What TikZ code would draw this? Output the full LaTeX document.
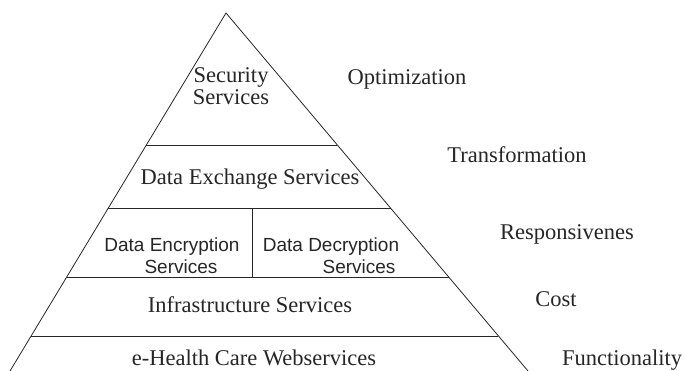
\documentclass[tikz,border=0pt]{standalone}
\usepackage{fontspec}
\setmainfont{Liberation Serif}
\newfontfamily\arialfont{Liberation Sans}
\usetikzlibrary{calc}
\tikzset{
  edge/.style={draw=black!85, line width=0.8pt},
  serif/.style={inner sep=0pt, anchor=base, font=\fontsize{22.5}{24}\selectfont, text=black!85},
  sans/.style={inner sep=0pt, anchor=base, font=\arialfont\fontsize{19}{21}\selectfont, text=black!85},
}
\begin{document}
\begin{tikzpicture}[x=1pt,y=-1pt]
\useasboundingbox (0,0) rectangle (685,371);
\coordinate (apex) at (226,13);
\coordinate (bl) at (10,371);
\coordinate (br) at (528,371);
% pyramid sides
\draw[edge] (bl) -- (apex) -- (br);
% layer dividers
\coordinate (l1) at ($(apex)!0.3687!(bl)$);
\coordinate (r1) at ($(apex)!0.3687!(br)$);
\coordinate (l2) at ($(apex)!0.5447!(bl)$);
\coordinate (r2) at ($(apex)!0.5447!(br)$);
\coordinate (l3) at ($(apex)!0.7374!(bl)$);
\coordinate (r3) at ($(apex)!0.7374!(br)$);
\coordinate (l4) at ($(apex)!0.9022!(bl)$);
\coordinate (r4) at ($(apex)!0.9022!(br)$);
\coordinate (m2) at (252,208);
\coordinate (m3) at (252,277);
\draw[edge] (l1) -- (r1);
\draw[edge] (l2) -- (r2);
\draw[edge] (l3) -- (r3);
\draw[edge] (l4) -- (r4);
\draw[edge] (m2) -- (m3);
% layer texts
\node[serif] (sec1) at (231,83) {Security};
\node[serif] (sec2) at (231,105) {Services};
\node[serif] (dex) at (250,185) {Data Exchange Services};
\node[sans] (enc1) at (172,252) {Data Encryption};
\node[sans] (enc2) at (181,274) {Services};
\node[sans] (dec1) at (331,252) {Data Decryption};
\node[sans] (dec2) at (359,274) {Services};
\node[serif] (inf) at (250,312) {Infrastructure Services};
\node[serif] (ehc) at (254,365) {e-Health Care Webservices};
% side labels
\node[serif] (opt) at (407,85) {Optimization};
\node[serif] (tra) at (517,163) {Transformation};
\node[serif] (res) at (567,240) {Responsivenes};
\node[serif] (cost) at (556,306) {Cost};
\node[serif] (fun) at (622,365) {Functionality};
\end{tikzpicture}
\end{document}
